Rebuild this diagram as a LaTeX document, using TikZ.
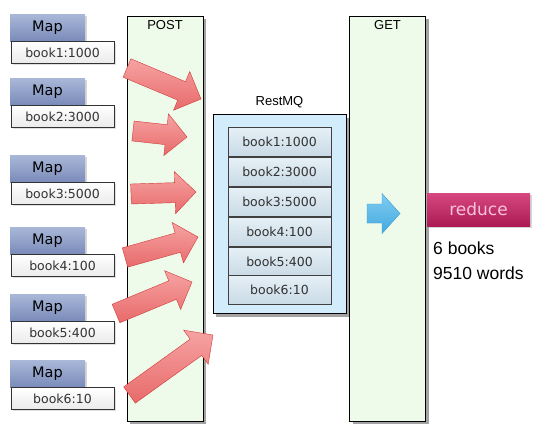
\documentclass[tikz,border=0pt]{standalone}
\usepackage{fontspec}
\setmainfont{Liberation Sans}
\newfontfamily\dejavu{DejaVu Sans}
\usetikzlibrary{calc,positioning,shadows}

\definecolor{lanegreen}{HTML}{EEFBEA}
\definecolor{mqblue}{HTML}{D3ECFB}
\definecolor{maptop}{HTML}{A9B8D8}
\definecolor{mapbot}{HTML}{7A8BBA}
\definecolor{itemtop}{HTML}{E6F0F6}
\definecolor{itembot}{HTML}{C9DAE6}
\definecolor{redtop}{HTML}{F6A3A3}
\definecolor{redbot}{HTML}{E86A6A}
\definecolor{redline}{HTML}{D23A3A}
\definecolor{bluetop}{HTML}{7FCDF2}
\definecolor{bluebot}{HTML}{45A9DF}
\definecolor{blueline}{HTML}{3A97CF}
\definecolor{reducetop}{HTML}{D6487F}
\definecolor{reducebot}{HTML}{AD1A55}
\definecolor{reducetext}{HTML}{F7C3DA}

% block arrow: [style]{tail}{tip}{shaft half}{head half}{head length}
\newcommand\blockarrow[6][]{%
  \coordinate (ah) at ($(#3)!#6!(#2)$);
  \draw[#1] ($(#2)!#4!90:(#3)$) -- ($(ah)!#4!90:(#3)$) -- ($(ah)!#5!90:(#3)$)
    -- (#3) -- ($(ah)!#5!-90:(#3)$) -- ($(ah)!#4!-90:(#3)$)
    -- ($(#2)!#4!-90:(#3)$) -- cycle;
}

\tikzset{
  lane/.style={draw, fill=lanegreen, minimum width=76pt, minimum height=405pt,
    inner sep=0pt, drop shadow={shadow xshift=3pt, shadow yshift=-3pt, fill=black!60, opacity=.6}},
  lanetitle/.style={font=\fontsize{13}{15}\selectfont, inner sep=0pt},
  maphead/.style={top color=maptop, bottom color=mapbot, minimum width=75pt,
    minimum height=27pt, inner sep=0pt, font=\dejavu\fontsize{14.5}{16}\selectfont,
    drop shadow={shadow xshift=2pt, shadow yshift=-1.5pt, fill=black!40, opacity=.4}},
  maplbl/.style={draw=black!80, top color=white, bottom color=black!8, minimum width=103pt,
    minimum height=22pt, inner sep=0pt, text=black!80,
    font=\dejavu\fontsize{12.5}{14}\selectfont,
    drop shadow={shadow xshift=2pt, shadow yshift=-1.5pt, fill=black!30, opacity=.4}},
  mqbox/.style={draw, fill=mqblue, minimum width=133pt, minimum height=199pt, inner sep=0pt,
    drop shadow={shadow xshift=3pt, shadow yshift=-4pt, fill=black!60, opacity=.6}},
  mqitem/.style={draw=black!75, top color=itemtop, bottom color=itembot,
    minimum width=103pt, minimum height=28.5pt, inner sep=0pt, text=black!80,
    font=\dejavu\fontsize{12.5}{14}\selectfont},
  redarrow/.style={draw=redline, top color=redtop, bottom color=redbot},
  bluearrow/.style={draw=blueline, top color=bluetop, bottom color=bluebot},
  reducebox/.style={top color=reducetop, bottom color=reducebot, minimum width=103pt,
    minimum height=33pt, inner sep=0pt, text=reducetext,
    font=\dejavu\fontsize{17}{19}\selectfont,
    drop shadow={shadow xshift=2pt, shadow yshift=-1.5pt, fill=black!40, opacity=.4}},
  result/.style={font=\fontsize{17.5}{19}\selectfont, inner sep=2pt}
}

\begin{document}
\begin{tikzpicture}[x=1pt, y=-1pt]
  \useasboundingbox (0,0) rectangle (543,445);

  % map side
  \foreach \i/\y/\txt in {1/27.5/book1:1000, 2/91.5/book2:3000, 3/168.5/book3:5000,
                          4/240.5/book4:100, 5/307.5/book5:400, 6/373.5/book6:10} {
    \node[maphead] (map\i) at (47.5,\y) {Map};
    \node[maplbl, below right=0pt and 1pt of map\i.south west] (lbl\i) {\txt};
  }

  % POST / GET lanes
  \node[lane] (post) at (165,218.5) {};
  \node[lane] (get) at (387.5,218.5) {};
  \node[lanetitle] (posttitle) at ([yshift=-9pt]post.north) {POST};
  \node[lanetitle] (gettitle) at ([yshift=-9pt]get.north) {GET};

  % queue
  \node[mqbox] (mq) at (279.5,213.5) {};
  \node[lanetitle] (mqtitle) at ([yshift=12pt]mq.north) {RestMQ};
  \foreach \i/\y/\txt in {1/141.7/book1:1000, 2/171.7/book2:3000, 3/201.5/book3:5000,
                          4/231.5/book4:100, 5/261.5/book5:400, 6/289.5/book6:10}
    \node[mqitem] (item\i) at (279.5,\y) {\txt};

  % posting arrows
  \foreach \i/\tx/\ty/\hx/\hy in {1/127/68/201/99, 2/133/131/187/137, 3/131/194/196/192,
                                  4/125/257.5/198/237, 5/116/313.5/192/282, 6/129.5/395/213/335} {
    \coordinate (tail\i) at (\tx,\ty);
    \coordinate (tip\i) at (\hx,\hy);
    \blockarrow[redarrow]{tail\i}{tip\i}{10pt}{21pt}{21pt}
  }

  % get arrow
  \coordinate (gtail) at (367,213.5);
  \coordinate (gtip) at (400,213.5);
  \blockarrow[bluearrow]{gtail}{gtip}{9.5pt}{20pt}{18pt}

  % reduce
  \node[reducebox] (reduce) at (478.5,209.5) {reduce};
  \node[result, anchor=west] (nbooks) at (431,248) {6 books};
  \node[result, anchor=west] (nwords) at (431,273) {9510 words};
\end{tikzpicture}
\end{document}
